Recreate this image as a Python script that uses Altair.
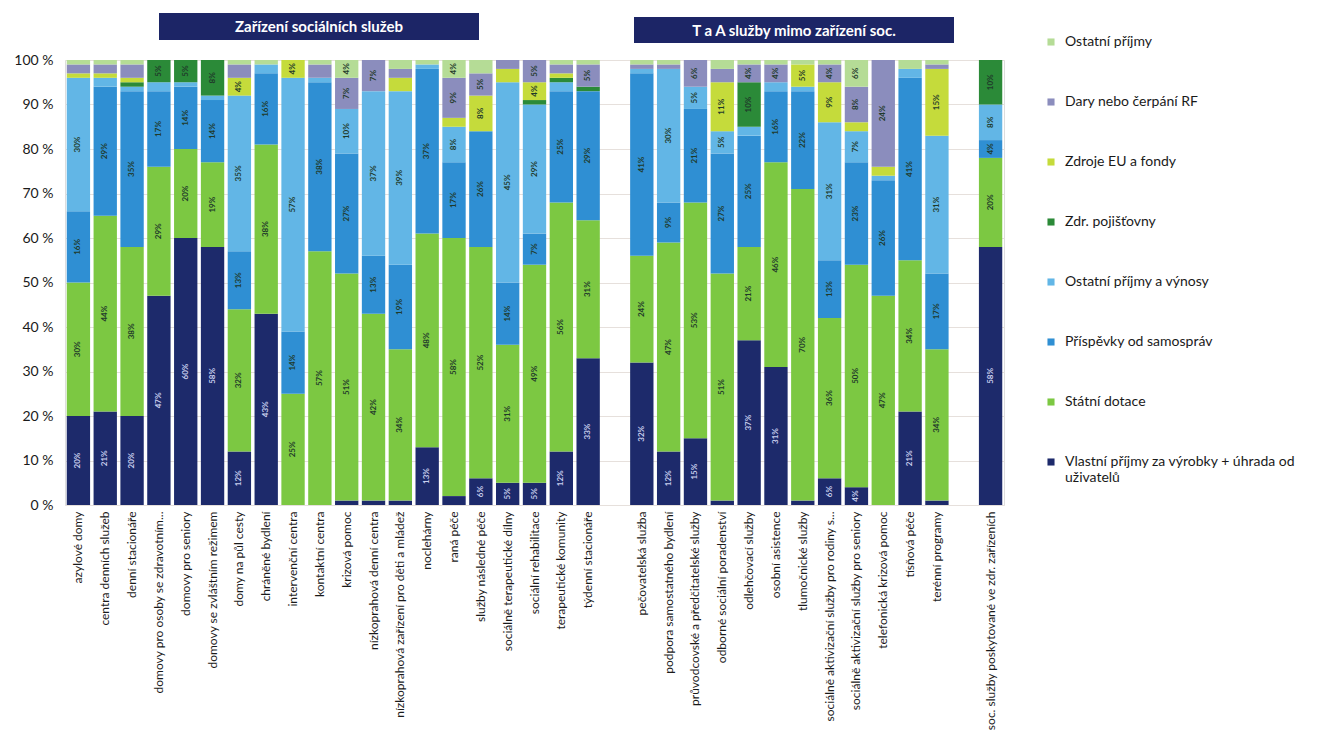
import altair as alt
import pandas as pd

cats_left = ["azylové domy", "centra denních služeb", "denní stacionáře",
             "domovy pro osoby se zdravotním...", "domovy pro seniory",
             "domovy se zvláštním režimem", "domy na půl cesty", "chráněné bydlení",
             "intervenční centra", "kontaktní centra", "krizová pomoc",
             "nízkoprahová denní centra", "nízkoprahová zařízení pro děti a mládež",
             "noclehárny", "raná péče", "služby následné péče",
             "sociálně terapeutické dílny", "sociální rehabilitace",
             "terapeutické komunity", "týdenní stacionáře"]
cats_right = ["pečovatelská služba", "podpora samostatného bydlení",
              "průvodcovské a předčitatelské služby", "odborné sociální poradenství",
              "odlehčovací služby", "osobní asistence", "tlumočnické služby",
              "sociálně aktivizační služby pro rodiny s...",
              "sociálně aktivizační služby pro seniory", "telefonická krizová pomoc",
              "tísňová péče", "terénní programy"]
cats_last = ["soc. služby poskytované ve zdr. zařízeních"]

categories = cats_left + cats_right + cats_last
slots = cats_left + [" "] + cats_right + ["  "] + cats_last

series_names = ["Vlastní příjmy za výrobky + úhrada od uživatelů", "Státní dotace",
                "Příspěvky od samospráv", "Ostatní příjmy a výnosy", "Zdr. pojišťovny",
                "Zdroje EU a fondy", "Dary nebo čerpání RF", "Ostatní příjmy"]

vlastni = [20, 21, 20, 47, 60, 58, 12, 43, 0, 0, 1, 1, 1, 13, 2, 6, 5, 5, 12, 33,
           32, 12, 15, 1, 37, 31, 1, 6, 4, 0, 21, 1,
           58]
statni = [30, 44, 38, 29, 20, 19, 32, 38, 25, 57, 51, 42, 34, 48, 58, 52, 31, 49, 56, 31,
          24, 47, 53, 51, 21, 46, 70, 36, 50, 47, 34, 34,
          20]
prispevky = [16, 29, 35, 17, 14, 14, 13, 16, 14, 38, 27, 13, 19, 37, 17, 26, 14, 7, 25, 29,
             41, 9, 21, 27, 25, 16, 22, 13, 23, 26, 41, 17,
             4]
vynosy = [30, 2, 1, 2, 1, 1, 35, 2, 57, 1, 10, 37, 39, 1, 8, 0, 45, 29, 2, 0,
          1, 30, 5, 5, 2, 2, 1, 31, 7, 1, 2, 31,
          8]
pojistovny = [0, 0, 1, 5, 5, 8, 0, 0, 0, 0, 0, 0, 0, 0, 0, 0, 0, 1, 1, 1,
              0, 0, 0, 0, 10, 0, 0, 0, 0, 0, 0, 0,
              10]
eu = [1, 1, 1, 0, 0, 0, 4, 0, 4, 0, 0, 0, 3, 0, 2, 8, 3, 4, 1, 0,
      0, 0, 0, 11, 0, 0, 5, 9, 2, 2, 0, 15,
      0]
dary = [2, 2, 3, 0, 0, 0, 3, 0, 0, 3, 7, 7, 2, 0, 9, 5, 2, 5, 2, 5,
        1, 1, 6, 3, 4, 4, 0, 4, 8, 24, 0, 1,
        0]
ostatni = [1, 1, 1, 0, 0, 0, 1, 1, 0, 1, 4, 0, 2, 1, 4, 3, 0, 0, 1, 1,
           1, 1, 0, 2, 1, 1, 1, 1, 6, 0, 2, 1,
           0]

series_values = [vlastni, statni, prispevky, vynosy, pojistovny, eu, dary, ostatni]

rows = []
for k, (name, vals) in enumerate(zip(series_names, series_values)):
    for cat, v in zip(categories, vals):
        rows.append({"cat": cat, "series": name, "value": v, "ord": k})
df = pd.DataFrame(rows)

legend_order = list(reversed(series_names))
color_map = {
    "Vlastní příjmy za výrobky + úhrada od uživatelů": "#1d2a6b",
    "Státní dotace": "#7cc842",
    "Příspěvky od samospráv": "#2f8fd3",
    "Ostatní příjmy a výnosy": "#62b6e6",
    "Zdr. pojišťovny": "#2b8a38",
    "Zdroje EU a fondy": "#c5db3b",
    "Dary nebo čerpání RF": "#8b8dbd",
    "Ostatní příjmy": "#b5dc96",
}
colors = [color_map[s] for s in legend_order]

FONT = "Lato"

x_enc = alt.X("cat:N", sort=slots,
              scale=alt.Scale(domain=slots, paddingInner=0.13, paddingOuter=0.065),
              axis=alt.Axis(title=None, labelAngle=270, labelFont=FONT, labelFontSize=12,
                            labelColor="#1a1a1a", labelLimit=400, labelPadding=6,
                            domain=False, ticks=False, grid=False))

bars = alt.Chart(df).mark_bar().encode(
    x=x_enc,
    y=alt.Y("value:Q", stack="normalize", scale=alt.Scale(domain=[0, 1]),
            axis=alt.Axis(title=None, values=[i / 10 for i in range(11)],
                          labelExpr="format(datum.value*100, 'd') + ' %'",
                          labelFont=FONT, labelFontSize=14, labelColor="#1a1a1a",
                          labelPadding=12, domain=False, ticks=False,
                          grid=True, gridColor="#e6e0dc", gridWidth=1)),
    color=alt.Color("series:N", scale=alt.Scale(domain=legend_order, range=colors),
                    legend=alt.Legend(
                        title=None, orient="none", legendX=979, legendY=-25,
                        symbolType="square", symbolSize=50, symbolStrokeWidth=0,
                        labelFont=FONT, labelFontSize=14, labelColor="#1a1a1a",
                        labelLimit=400, rowPadding=46, labelOffset=7,
                        labelExpr="datum.label == 'Vlastní příjmy za výrobky + úhrada od uživatelů' ? ['Vlastní příjmy za výrobky + úhrada od', 'uživatelů'] : datum.label")),
    order=alt.Order("ord:Q", sort="ascending"),
)

labels = alt.Chart(df).transform_stack(
    stack="value", groupby=["cat"], sort=[alt.SortField("ord", order="ascending")],
    as_=["y0", "y1"], offset="normalize"
).transform_calculate(
    mid="(datum.y0 + datum.y1) / 2", lab="datum.value + '%'"
).transform_filter("datum.value >= 4").mark_text(
    angle=270, fontSize=8, fontWeight="bold", font=FONT
).encode(
    x=alt.X("cat:N", sort=slots),
    y=alt.Y("mid:Q"),
    text="lab:N",
    color=alt.condition("datum.ord == 0", alt.value("#c9cfee"), alt.value("#1f3a2a")),
)

b1 = alt.Data(values=[{"t": "Zařízení sociálních služeb"}])
b2 = alt.Data(values=[{"t": "T a A služby mimo zařízení soc."}])
rect1 = alt.Chart(b1).mark_rect(color="#1c2566").encode(
    x=alt.value(94), x2=alt.value(414), y=alt.value(-47), y2=alt.value(-20))
txt1 = alt.Chart(b1).mark_text(color="white", fontSize=15, fontWeight="bold", font=FONT).encode(
    x=alt.value(254), y=alt.value(-33), text="t:N")
rect2 = alt.Chart(b2).mark_rect(color="#1c2566").encode(
    x=alt.value(569), x2=alt.value(889), y=alt.value(-43), y2=alt.value(-17))
txt2 = alt.Chart(b2).mark_text(color="white", fontSize=15, fontWeight="bold", font=FONT).encode(
    x=alt.value(729), y=alt.value(-29), text="t:N")

chart = alt.layer(bars, labels, rect1, txt1, rect2, txt2).properties(
    width=939, height=445, padding={"left": 5, "top": 5, "right": 5, "bottom": 5}
).configure_view(stroke=None).configure(background="white")

chart.save("out.html", embed_options={"renderer": "svg", "actions": False})
